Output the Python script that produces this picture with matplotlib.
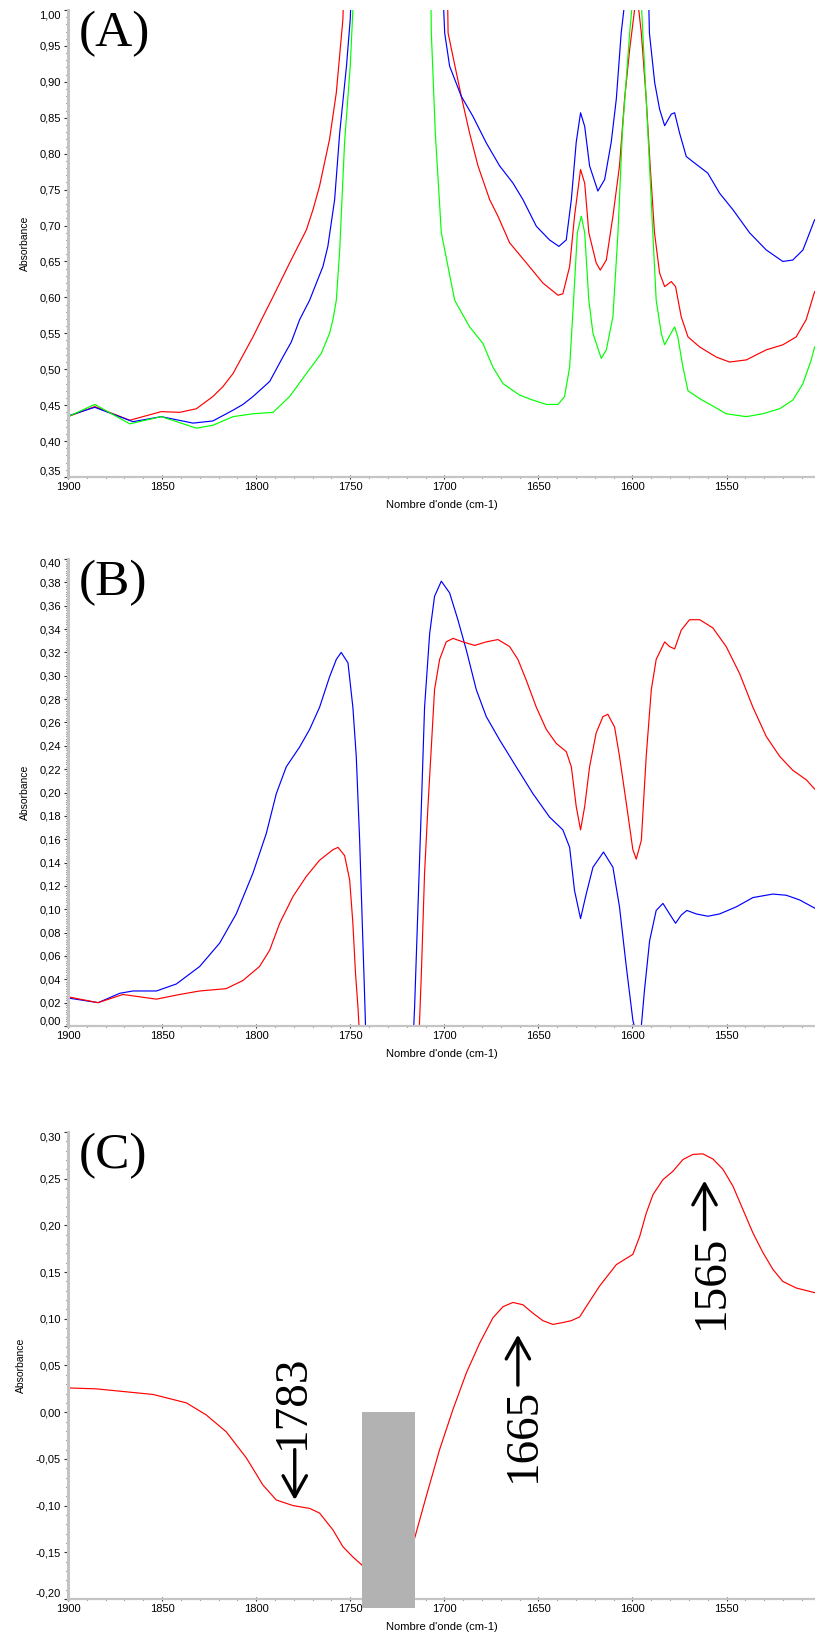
import numpy as np
import matplotlib
matplotlib.use("Agg")
import matplotlib.pyplot as plt
from matplotlib.ticker import MultipleLocator, FuncFormatter

plt.rcParams["font.family"] = ["Liberation Sans", "DejaVu Sans"]

# -------------------------------------------------------
# Donnees (nombre d'onde en cm-1, absorbance)
# -------------------------------------------------------

# Panneau (A) : trois spectres
wn_a_rouge = [1900, 1885.8, 1867.2, 1850.4, 1840.6, 1831.8, 1823, 1817.6, 1812.3, 1801.7, 1796.4,
              1791, 1782.2, 1773.3, 1769.8, 1766.3, 1761, 1757.4, 1753.9, 1752, 1725, 1699, 1698,
              1691, 1686.6, 1682.1, 1675.9, 1671.5, 1665.3, 1656.4, 1647.6, 1639.6, 1637, 1633.4,
              1630.8, 1627.6, 1625.4, 1623.2, 1619.3, 1617.1, 1613.9, 1610.4, 1606.9, 1604.2, 1601.5,
              1598.9, 1597.5, 1595.3, 1592.7, 1590.6, 1588.3, 1585.6, 1582.9, 1579.4, 1577.1, 1574.1,
              1570.5, 1564.3, 1555.5, 1548.4, 1539.5, 1528.9, 1520.1, 1513, 1507.7, 1503.2]
ab_a_rouge = [0.434, 0.448, 0.429, 0.441, 0.440, 0.445, 0.462, 0.476, 0.494, 0.545, 0.573,
              0.601, 0.648, 0.694, 0.722, 0.755, 0.820, 0.885, 0.987, 1.15, 2.0, 1.15, 0.968,
              0.880, 0.829, 0.783, 0.736, 0.713, 0.676, 0.648, 0.620, 0.603, 0.605, 0.643,
              0.713, 0.778, 0.759, 0.690, 0.648, 0.638, 0.652, 0.713, 0.783, 0.876, 0.945,
              1.0, 1.02, 0.968, 0.876, 0.783, 0.690, 0.634, 0.615, 0.622, 0.615, 0.573,
              0.545, 0.531, 0.517, 0.510, 0.513, 0.527, 0.534, 0.545, 0.569, 0.608]

wn_a_bleu = [1900, 1885.8, 1865.5, 1850.4, 1833.6, 1823, 1812.3, 1807, 1801.7, 1792.8, 1785.8,
             1781.3, 1776.9, 1771.6, 1768, 1764.5, 1761.9, 1758.3, 1755.6, 1752, 1750, 1748.5, 1725,
             1702, 1699.8, 1697.2, 1691, 1684.8, 1677.7, 1670.6, 1663.5, 1658.2, 1651.1, 1644.1,
             1639.1, 1635.2, 1632.5, 1629.9, 1627.6, 1625.4, 1622.8, 1618.4, 1614.8, 1611.3, 1608.6,
             1606, 1604.6, 1603, 1598, 1593, 1591, 1588.2, 1585.6, 1582.9, 1579.4, 1577.6, 1575,
             1571.4, 1567, 1560, 1553.7, 1546.6, 1537.8, 1528.9, 1520.1, 1514.8, 1509.4, 1503.2]
ab_a_bleu = [0.435, 0.447, 0.427, 0.434, 0.425, 0.428, 0.443, 0.451, 0.462, 0.483, 0.517,
             0.538, 0.569, 0.596, 0.620, 0.643, 0.671, 0.736, 0.829, 0.922, 0.987, 1.1, 2.0,
             1.1, 0.968, 0.922, 0.880, 0.852, 0.815, 0.783, 0.759, 0.736, 0.699, 0.680,
             0.671, 0.680, 0.736, 0.816, 0.857, 0.838, 0.783, 0.748, 0.764, 0.816, 0.876,
             0.968, 1.0, 1.2, 1.5, 1.2, 0.968, 0.899, 0.862, 0.839, 0.855, 0.857, 0.829,
             0.796, 0.787, 0.773, 0.745, 0.722, 0.690, 0.666, 0.650, 0.652, 0.666, 0.708]

wn_a_vert = [1900, 1885.8, 1867.2, 1850.4, 1831.8, 1823, 1812.3, 1801.7, 1791, 1782.2, 1773.3,
             1765.4, 1761, 1759.2, 1757.4, 1755.6, 1753, 1750, 1748.6, 1747, 1725, 1707.5, 1706.9,
             1704.8, 1701.6, 1694.5, 1686.6, 1679.5, 1674.2, 1668.8, 1660, 1652.9, 1645.8, 1639.6,
             1636.1, 1633.4, 1631.3, 1629.3, 1627.2, 1625.4, 1623.2, 1621, 1616.6, 1613.9, 1610.4,
             1607.7, 1605.4, 1601.5, 1597, 1594.5, 1591.8, 1589.2, 1587.4, 1584.7, 1582.9, 1580.6,
             1577.6, 1575.9, 1573.2, 1570.5, 1564.3, 1558.1, 1550.2, 1539.5, 1530.7, 1521.8, 1514.8,
             1509.4, 1505, 1503.2]
ab_a_vert = [0.434, 0.451, 0.424, 0.434, 0.418, 0.422, 0.434, 0.438, 0.440, 0.462, 0.494,
             0.522, 0.550, 0.569, 0.596, 0.666, 0.816, 0.922, 1.0, 1.1, 2.0, 1.1, 0.968,
             0.829, 0.690, 0.596, 0.559, 0.536, 0.503, 0.480, 0.464, 0.457, 0.451, 0.451,
             0.462, 0.503, 0.596, 0.690, 0.713, 0.690, 0.596, 0.550, 0.515, 0.527, 0.573,
             0.690, 0.829, 0.968, 1.1, 0.968, 0.829, 0.690, 0.596, 0.550, 0.534, 0.545,
             0.559, 0.545, 0.503, 0.470, 0.459, 0.450, 0.438, 0.434, 0.438, 0.445, 0.457,
             0.480, 0.513, 0.531]

# Panneau (B) : deux spectres
wn_b_bleu = [1900, 1884, 1872.5, 1865.5, 1853, 1842.4, 1830, 1819.4, 1810.6, 1801.7, 1794.6,
             1789.3, 1784, 1776.9, 1771.6, 1766.3, 1761, 1757.4, 1754.8, 1751.2, 1748.6, 1746.8,
             1745, 1743.6, 1742.4, 1741.5, 1730, 1716.8, 1715.8, 1714, 1712.2, 1710.5, 1707.8,
             1705.2, 1701.6, 1697.2, 1692.8, 1688.3, 1683, 1677.7, 1670.6, 1661.8, 1652.9, 1644.1,
             1637, 1633.4, 1630.8, 1627.6, 1624.6, 1621, 1615.4, 1610.4, 1606.9, 1603.3, 1599.8,
             1597.5, 1595.3, 1593.6, 1590.9, 1587.4, 1583.8, 1580.3, 1577.1, 1574.1, 1571.1, 1566.1,
             1559.9, 1553.7, 1544.9, 1536, 1525.4, 1518.3, 1511.2, 1503.2]
ab_b_bleu = [0.024, 0.020, 0.028, 0.030, 0.030, 0.036, 0.051, 0.071, 0.096, 0.131, 0.165,
             0.199, 0.222, 0.239, 0.254, 0.273, 0.299, 0.314, 0.320, 0.311, 0.273, 0.231,
             0.159, 0.088, 0.028, -0.02, -0.3, -0.02, 0.016, 0.102, 0.188, 0.273, 0.336,
             0.368, 0.381, 0.371, 0.348, 0.322, 0.288, 0.265, 0.245, 0.222, 0.199, 0.179,
             0.168, 0.153, 0.116, 0.092, 0.113, 0.136, 0.149, 0.136, 0.102, 0.051, 0.005,
             -0.01, 0.0, 0.031, 0.073, 0.099, 0.105, 0.096, 0.088, 0.095, 0.099, 0.096,
             0.094, 0.096, 0.102, 0.110, 0.113, 0.112, 0.108, 0.101]

wn_b_rouge = [1900, 1884, 1870.8, 1861.9, 1853, 1840.7, 1830, 1815.9, 1807, 1798.2, 1792.8,
              1787.5, 1780.4, 1773.4, 1766.3, 1759.2, 1756.5, 1753, 1750.3, 1748.6, 1747.2, 1745.9,
              1745, 1730, 1713.5, 1712.2, 1710.5, 1708.7, 1706.9, 1705.2, 1702.5, 1699, 1695.4,
              1690.1, 1683.9, 1677.7, 1671.5, 1665.3, 1660.9, 1656.4, 1651.1, 1645.8, 1640.5, 1635.2,
              1632.5, 1629.9, 1627.6, 1625.4, 1622.8, 1619.3, 1615.7, 1613.1, 1609.5, 1606.9, 1603.3,
              1599.8, 1598, 1595.3, 1592.7, 1590, 1587.4, 1582.9, 1580.3, 1577.6, 1574.1, 1569.7,
              1564.3, 1557.3, 1550.2, 1543.1, 1536, 1528.9, 1521.8, 1514.8, 1507.7, 1503.2]
ab_b_rouge = [0.025, 0.020, 0.027, 0.025, 0.023, 0.027, 0.030, 0.032, 0.039, 0.051, 0.065,
              0.088, 0.111, 0.128, 0.142, 0.151, 0.153, 0.146, 0.125, 0.088, 0.045, 0.016,
              -0.01, -0.3, -0.01, 0.045, 0.131, 0.188, 0.239, 0.288, 0.314, 0.329, 0.332,
              0.329, 0.326, 0.329, 0.331, 0.325, 0.314, 0.296, 0.273, 0.254, 0.242, 0.235,
              0.222, 0.188, 0.168, 0.188, 0.222, 0.251, 0.265, 0.267, 0.256, 0.231, 0.191,
              0.151, 0.143, 0.159, 0.231, 0.288, 0.314, 0.329, 0.325, 0.323, 0.339, 0.348,
              0.348, 0.341, 0.325, 0.302, 0.273, 0.248, 0.231, 0.219, 0.211, 0.203]

# Panneau (C) : spectre difference
wn_c = [1900, 1885, 1854.8, 1837.1, 1826.5, 1815.9, 1805.2, 1796.4, 1789.3, 1780.4, 1771.6,
        1766.3, 1759.2, 1753.9, 1748.6, 1743.6, 1730, 1715.8, 1709.6, 1702.5, 1695.4, 1688.3,
        1681.2, 1674.2, 1668.8, 1663.5, 1658.2, 1652.9, 1647.6, 1642.3, 1637, 1632.5, 1628.1,
        1624.6, 1617.5, 1608.6, 1599.8, 1596.2, 1592.7, 1589.1, 1583.8, 1578.5, 1573.2, 1567.9,
        1562.6, 1557.2, 1551.9, 1546.6, 1541.3, 1536, 1530.7, 1525.4, 1520.1, 1513, 1503.2]
ab_c = [0.026, 0.025, 0.019, 0.010, -0.003, -0.021, -0.049, -0.078, -0.094, -0.100, -0.103,
        -0.108, -0.126, -0.144, -0.155, -0.164, -0.15, -0.135, -0.090, -0.040, 0.003, 0.042,
        0.074, 0.101, 0.113, 0.1175, 0.115, 0.106, 0.098, 0.094, 0.096, 0.098, 0.102,
        0.113, 0.135, 0.158, 0.169, 0.188, 0.213, 0.233, 0.249, 0.258, 0.2705, 0.276,
        0.2766, 0.271, 0.260, 0.242, 0.217, 0.192, 0.171, 0.153, 0.140, 0.133, 0.128]

# zone masquee (grise) du panneau (C)
zone_masquee = (1743.5, 1715.5)

# annotations du panneau (C) : nombre, centre du texte, fleche (x, y depart, y pointe)
nombres_c = ["1783", "1665", "1565"]
centres_c = [(1780.4, 0.011), (1657.9, -0.024), (1558.1, 0.140)]
fleches_c = [(1779.5, -0.040, -0.094), (1660.9, 0.029, 0.083), (1561.7, 0.1955, 0.248)]

ROUGE, BLEU, VERT = "#ff0000", "#0000ff", "#00ff00"

fig = plt.figure(figsize=(8.15, 16.36), dpi=100)

def virgule(v, pos):
    if abs(v) < 1e-9:
        v = 0.0
    return f"{v:.2f}".replace(".", ",")

def preparer_axe(ax, ymin, ymax, pas, pas_mineur):
    ax.set_xlim(1900, 1503)
    ax.set_ylim(ymin, ymax)
    ax.set_xticks([1900, 1850, 1800, 1750, 1700, 1650, 1600, 1550])
    ax.xaxis.set_minor_locator(MultipleLocator(10))
    ax.set_yticks(np.round(np.arange(ymin, ymax + pas / 2, pas), 3))
    ax.yaxis.set_minor_locator(MultipleLocator(pas_mineur))
    ax.yaxis.set_major_formatter(FuncFormatter(virgule))
    for cote in ["top", "right"]:
        ax.spines[cote].set_visible(False)
    ax.spines["left"].set_color("#c4c4c4")
    ax.spines["left"].set_linewidth(2.2)
    ax.spines["bottom"].set_color("#c4c4c4")
    ax.spines["bottom"].set_linewidth(1.6)
    ax.tick_params(axis="both", which="major", labelsize=8, color="#333333",
                   length=3, width=0.8, pad=2)
    ax.tick_params(axis="both", which="minor", color="#444444", length=1.5, width=0.8)
    ax.tick_params(axis="x", which="both", direction="inout")
    ax.set_ylabel("Absorbance", fontsize=7.5, labelpad=7)
    ax.set_xlabel("Nombre d'onde (cm-1)", fontsize=8, labelpad=6)
    # les etiquettes extremes restent a l'interieur de l'axe
    etiquettes = ax.get_yticklabels()
    etiquettes[0].set_va("bottom")
    etiquettes[-1].set_va("top")

def lettre(ax, texte):
    ax.text(0.014, 0.998, texte, transform=ax.transAxes, ha="left", va="top",
            fontsize=37, family="Liberation Serif")

g, l = 68 / 815, (815 - 68) / 815
h = 467 / 1636

ax_a = fig.add_axes([g, 1 - 477 / 1636, l, h])
ax_a.plot(wn_a_rouge, ab_a_rouge, color=ROUGE, lw=0.85)
ax_a.plot(wn_a_bleu, ab_a_bleu, color=BLEU, lw=0.85)
ax_a.plot(wn_a_vert, ab_a_vert, color=VERT, lw=0.85)
preparer_axe(ax_a, 0.35, 1.00, 0.05, 0.01)
lettre(ax_a, "(A)")

ax_b = fig.add_axes([g, 1 - 1026 / 1636, l, h])
ax_b.plot(wn_b_bleu, ab_b_bleu, color=BLEU, lw=0.85)
ax_b.plot(wn_b_rouge, ab_b_rouge, color=ROUGE, lw=0.85)
preparer_axe(ax_b, 0.00, 0.40, 0.02, 0.002)
lettre(ax_b, "(B)")

ax_c = fig.add_axes([g, 1 - 1599 / 1636, l, h])
ax_c.plot(wn_c, ab_c, color=ROUGE, lw=0.85)
preparer_axe(ax_c, -0.20, 0.30, 0.05, 0.01)
ax_c.bar((zone_masquee[0] + zone_masquee[1]) / 2, -0.21, width=zone_masquee[0] - zone_masquee[1],
         bottom=0.0, color="#b2b2b2", zorder=5, clip_on=False)
for nombre, (xc, yc), (xf, y0, y1) in zip(nombres_c, centres_c, fleches_c):
    ax_c.text(xc, yc, nombre, rotation=90, ha="center", va="center", fontsize=34,
              family="Liberation Serif")
    ax_c.annotate("", xy=(xf, y1), xytext=(xf, y0),
                  arrowprops=dict(arrowstyle="->,head_length=0.75,head_width=0.42",
                                  lw=2.4, color="black", mutation_scale=20,
                                  shrinkA=0, shrinkB=0))
lettre(ax_c, "(C)")

fig.savefig("out.png", dpi=100)
